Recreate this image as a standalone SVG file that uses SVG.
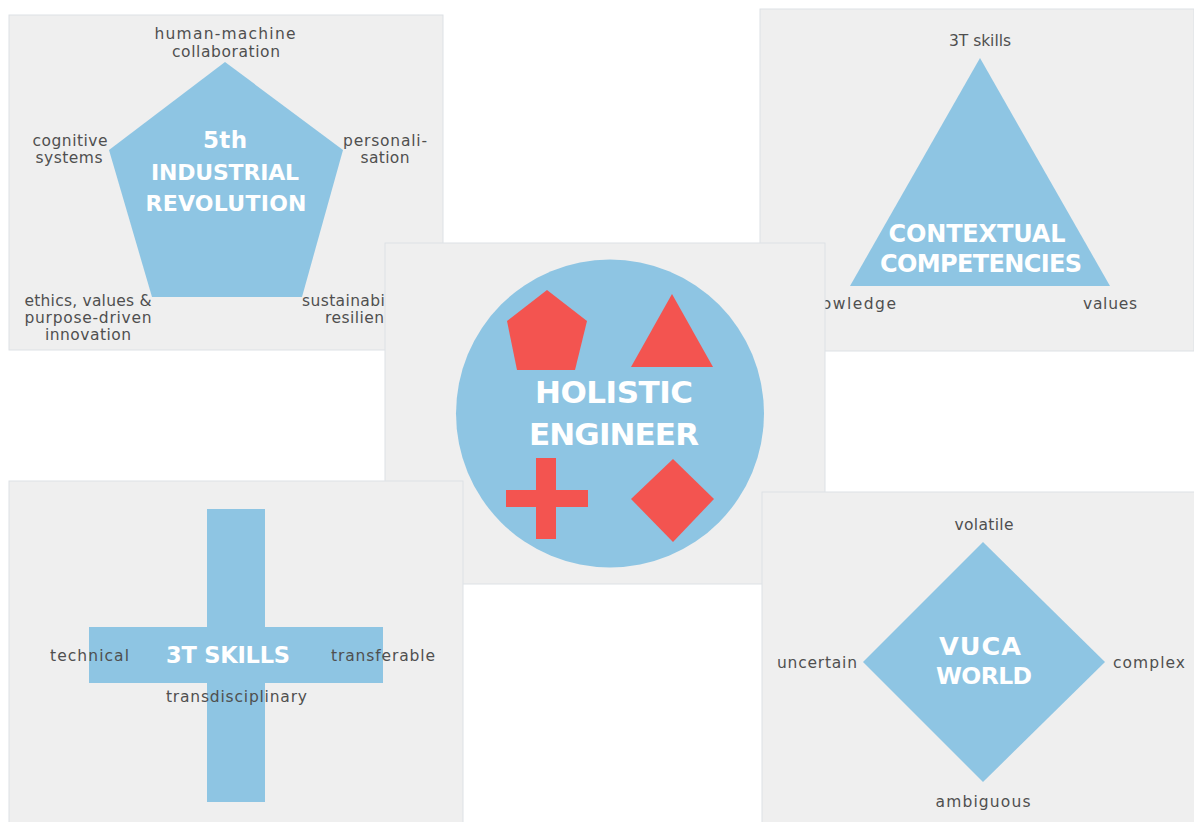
<svg xmlns="http://www.w3.org/2000/svg" width="1194" height="822" viewBox="0 0 1194 822">
  <style>
    .panel { fill: #efefef; stroke: #dde1e5; stroke-width: 1; }
    .shape { fill: #8ec5e3; }
    .mark { fill: #f35450; }
    .title { font-family: "DejaVu Sans", "Liberation Sans", sans-serif; font-weight: 700; fill: #ffffff; text-anchor: middle; }
    .label { font-family: "DejaVu Sans", "Liberation Sans", sans-serif; font-size: 15.5px; fill: #4f4f4f; }
    .mid { text-anchor: middle; }
  </style>

  <rect width="1194" height="822" fill="#ffffff"/>

  <!-- 5th industrial revolution -->
  <g id="industrial-revolution">
    <rect class="panel" x="9" y="15" width="434" height="335"/>
    <polygon class="shape" points="225,62 343,150 302,297 152,297 109,150"/>
    <text class="title" x="225" y="148" font-size="23" textLength="44">5th</text>
    <text class="title" x="225" y="180" font-size="22" textLength="148">INDUSTRIAL</text>
    <text class="title" x="226" y="211" font-size="22" textLength="161">REVOLUTION</text>
    <text class="label mid" x="225" y="39" textLength="141">human-machine</text>
    <text class="label mid" x="226" y="57" textLength="108">collaboration</text>
    <text class="label mid" x="70" y="146" textLength="75">cognitive</text>
    <text class="label mid" x="69" y="163" textLength="67">systems</text>
    <text class="label mid" x="385" y="146" textLength="84">personali-</text>
    <text class="label mid" x="385" y="163" textLength="49">sation</text>
    <text class="label mid" x="88" y="306" textLength="127">ethics, values &amp;</text>
    <text class="label mid" x="88" y="323" textLength="127">purpose-driven</text>
    <text class="label mid" x="88" y="340" textLength="86">innovation</text>
    <text class="label" x="302" y="306" textLength="126">sustainability &amp;</text>
    <text class="label" x="325" y="323" textLength="78">resilience</text>
  </g>

  <!-- contextual competencies -->
  <g id="contextual-competencies">
    <rect class="panel" x="760" y="9" width="434" height="342"/>
    <polygon class="shape" points="980,58 1110,286 850,286"/>
    <text class="title" x="977" y="242" font-size="24" textLength="177">CONTEXTUAL</text>
    <text class="title" x="981" y="272" font-size="24" textLength="202">COMPETENCIES</text>
    <text class="label mid" x="980" y="46" textLength="62">3T skills</text>
    <text class="label mid" x="848" y="309" textLength="96">knowledge</text>
    <text class="label mid" x="1110" y="309" textLength="54">values</text>
  </g>

  <!-- holistic engineer -->
  <g id="holistic-engineer">
    <rect class="panel" x="385" y="243" width="440" height="341"/>
    <circle class="shape" cx="610" cy="413.5" r="154"/>
    <polygon class="mark" points="547,290 587,321 575,370 517,370 507,321"/>
    <polygon class="mark" points="672,294 713,367 631,367"/>
    <rect class="mark" x="536" y="458" width="20" height="81"/>
    <rect class="mark" x="506" y="490" width="82" height="17"/>
    <polygon class="mark" points="673,459 714,499 673,542 631,499"/>
    <text class="title" x="614" y="403" font-size="31" textLength="158">HOLISTIC</text>
    <text class="title" x="614" y="445" font-size="31" textLength="170">ENGINEER</text>
  </g>

  <!-- 3T skills -->
  <g id="three-t-skills">
    <rect class="panel" x="9" y="481" width="454" height="345"/>
    <rect class="shape" x="207" y="509" width="58" height="293"/>
    <rect class="shape" x="89" y="627" width="294" height="56"/>
    <text class="title" x="228" y="663" font-size="22.5" textLength="124">3T SKILLS</text>
    <text class="label" x="50" y="661" textLength="79">technical</text>
    <text class="label" x="331" y="661" textLength="104">transferable</text>
    <text class="label" x="166" y="702" textLength="141">transdisciplinary</text>
  </g>

  <!-- VUCA world -->
  <g id="vuca-world">
    <rect class="panel" x="762" y="492" width="436" height="334"/>
    <polygon class="shape" points="983,542 1105,662 983,782 863,662"/>
    <text class="title" x="980" y="655" font-size="25.5" textLength="82">VUCA</text>
    <text class="title" x="984" y="684" font-size="23.5" textLength="96">WORLD</text>
    <text class="label mid" x="984" y="530" textLength="59">volatile</text>
    <text class="label" x="777" y="668" textLength="80">uncertain</text>
    <text class="label" x="1113" y="668" textLength="72">complex</text>
    <text class="label mid" x="983" y="807" textLength="95">ambiguous</text>
  </g>
</svg>
